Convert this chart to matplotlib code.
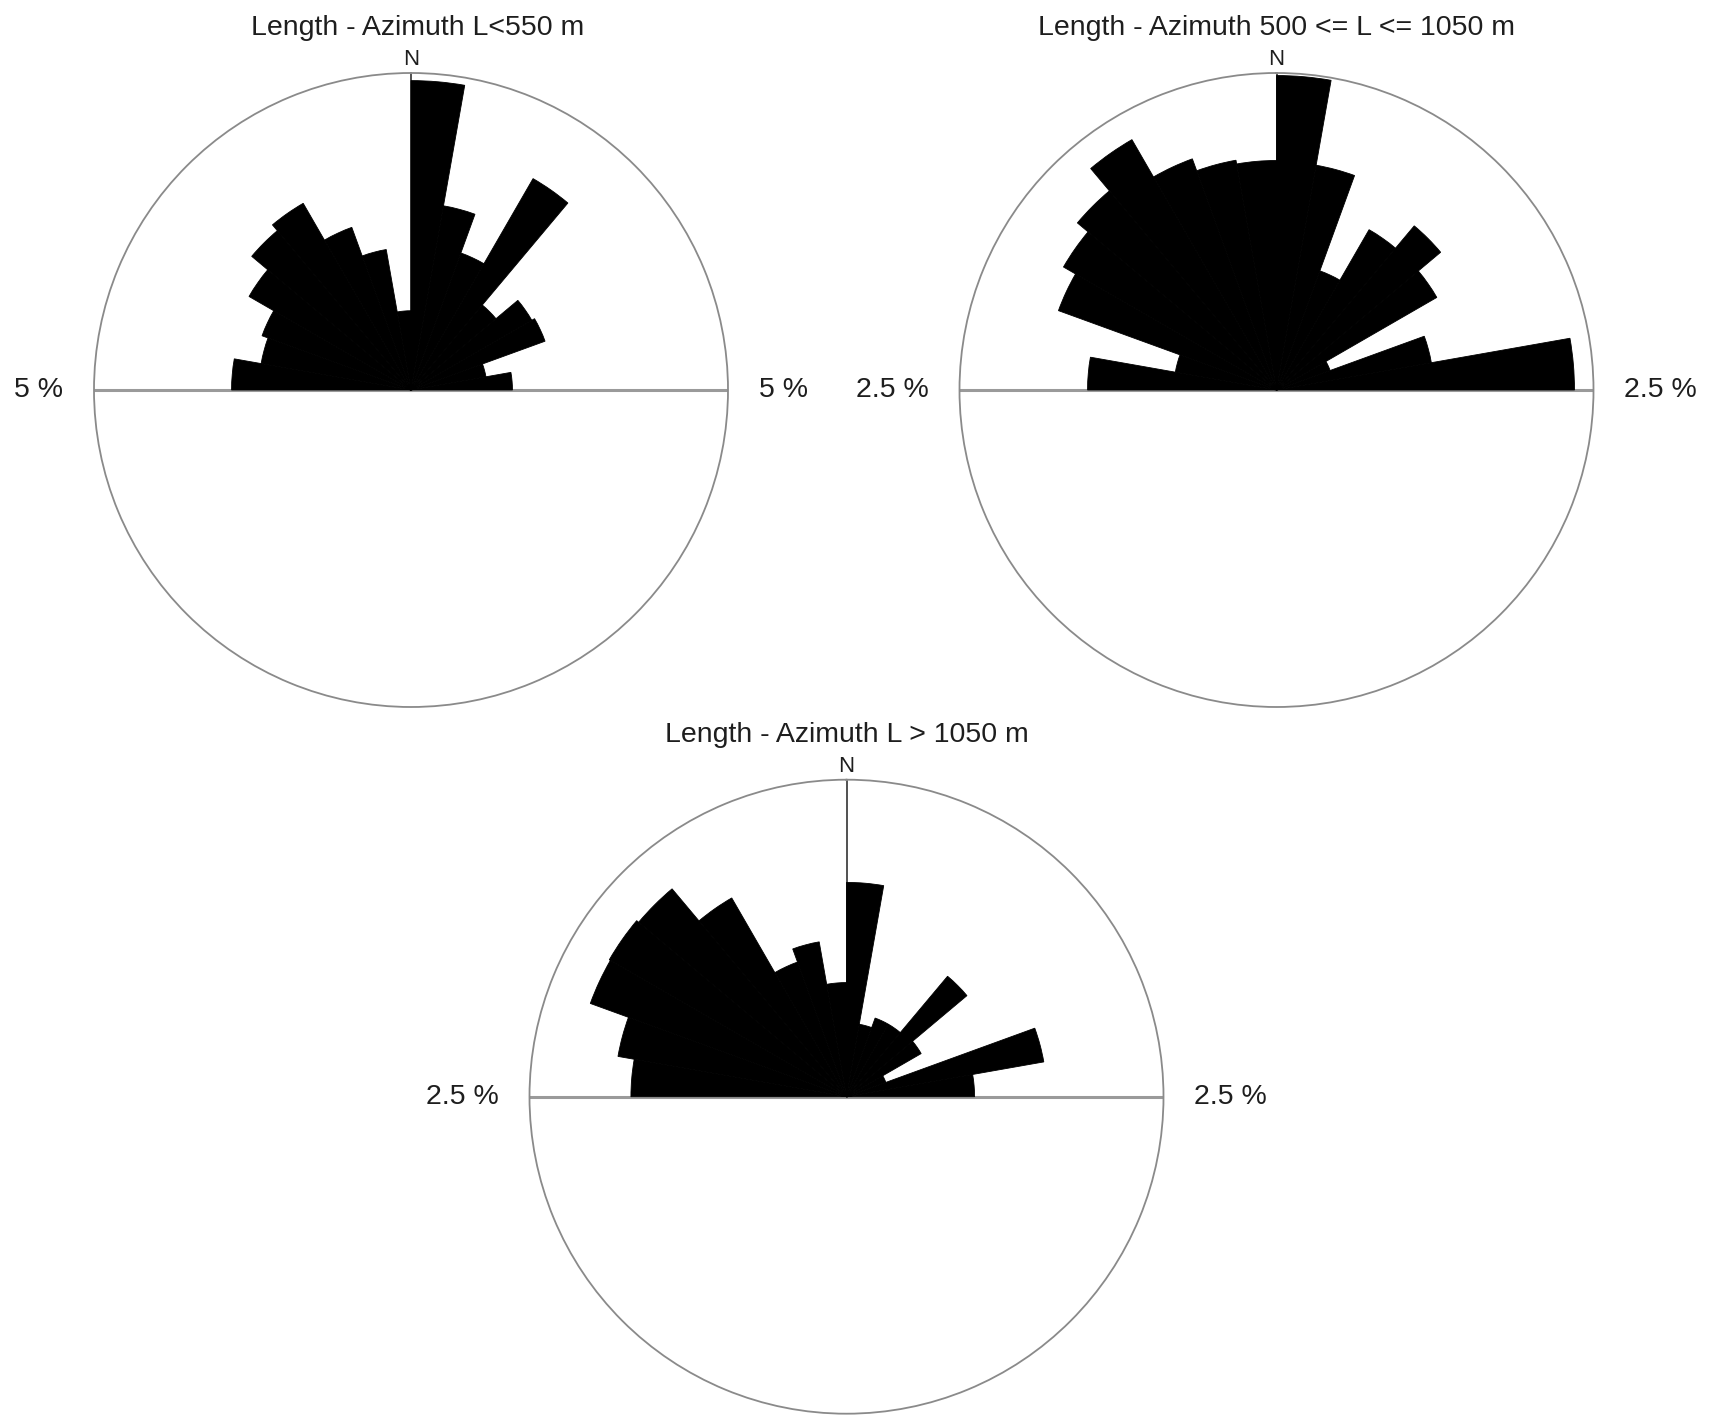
import numpy as np
import matplotlib as mpl

mpl.use('Agg')

import matplotlib.pyplot as plt

plt.rcParams['font.family'] = ['Liberation Sans', 'DejaVu Sans']

# azimuth bin starts (deg), upper half only: W -> N -> E
bin_starts = [270, 280, 290, 300, 310, 320, 330, 340, 350,
              0, 10, 20, 30, 40, 50, 60, 70, 80]
bin_width = 10

# frequency (%) per bin
short_pct = [2.83, 2.40, 2.50, 2.95, 3.28, 3.40, 2.73, 2.25, 1.25,
             4.88, 2.95, 2.30, 3.85, 1.75, 2.20, 2.25, 1.20, 1.60]
medium_pct = [1.49, 0.81, 1.83, 1.94, 2.05, 2.28, 1.94, 1.84, 1.81,
              2.48, 1.80, 1.00, 1.46, 1.69, 1.46, 0.45, 1.24, 2.35]
long_pct = [1.70, 1.83, 2.15, 2.16, 2.14, 1.81, 1.13, 1.24, 0.90,
            1.69, 0.58, 0.66, 0.66, 1.24, 0.68, 0.33, 1.58, 1.01]

titles = ['Length - Azimuth L<550 m',
          'Length - Azimuth 500 <= L <= 1050 m',
          'Length - Azimuth L > 1050 m']
scale_max = [5, 2.5, 2.5]
scale_labels = ['5 %', '2.5 %', '2.5 %']

W, H = 1711, 1421
R = 317

fig = plt.figure(figsize=(W / 100, H / 100), dpi=100)


def draw_rose(cx, cy, values, rmax, title, label, title_dx=0.0):
    rect = [(cx - R) / W, 1 - (cy + R) / H, 2 * R / W, 2 * R / H]
    ax = fig.add_axes(rect, projection='polar')
    ax.set_theta_zero_location('N')
    ax.set_theta_direction(-1)

    theta = np.radians(bin_starts)
    # black edges hide the hairline seams between neighbouring wedges
    ax.bar(theta, values, width=np.radians(bin_width), align='edge',
           color='black', edgecolor='black', linewidth=0.6, zorder=3)
    ax.set_ylim(0, rmax)
    ax.set_xticks([])
    ax.set_yticks([])
    ax.grid(False)
    ax.spines['polar'].set_color('#8a8a8a')
    ax.spines['polar'].set_linewidth(1.3)

    # W-E diameter and the north line
    ax.plot([1.5 * np.pi, 1.5 * np.pi], [rmax, 0], color='#9a9a9a', lw=2.2, zorder=2)
    ax.plot([0.5 * np.pi, 0.5 * np.pi], [0, rmax], color='#9a9a9a', lw=2.2, zorder=2)
    ax.plot([0, 0], [0, rmax], color='#333333', lw=1.2, zorder=2)

    ax.text(0.5 + title_dx, 1.071, title, transform=ax.transAxes,
            ha='center', va='center', fontsize=20.5, color='#1e1e1e')
    ax.annotate('N', xy=(0.5, 1.0), xycoords='axes fraction', xytext=(0, 2),
                textcoords='offset points', ha='center', va='bottom',
                fontsize=16, color='#1e1e1e')
    ax.annotate(label, xy=(0, 0.5), xycoords='axes fraction', xytext=(-22, 0),
                textcoords='offset points', ha='right', va='center',
                fontsize=20.5, color='#1e1e1e')
    ax.annotate(label, xy=(1, 0.5), xycoords='axes fraction', xytext=(22, 0),
                textcoords='offset points', ha='left', va='center',
                fontsize=20.5, color='#1e1e1e')
    return ax


draw_rose(411, 390, short_pct, scale_max[0], titles[0], scale_labels[0], title_dx=0.01)
draw_rose(1276.5, 390, medium_pct, scale_max[1], titles[1], scale_labels[1])
draw_rose(846.5, 1096.7, long_pct, scale_max[2], titles[2], scale_labels[2])

fig.savefig('out.png', dpi=100, facecolor='white')
plt.close(fig)
